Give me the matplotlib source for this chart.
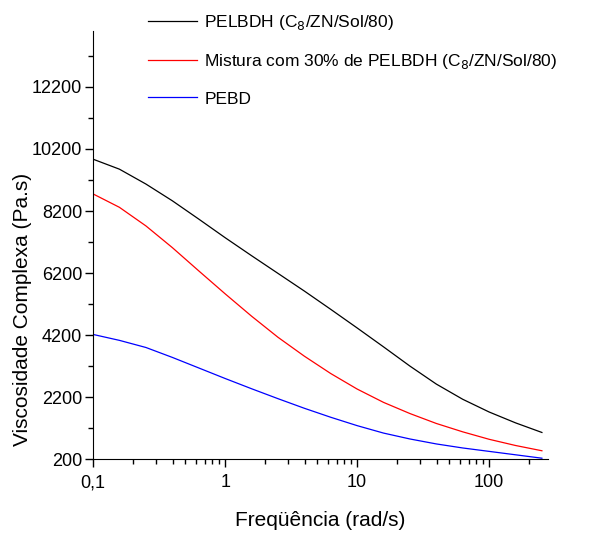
import numpy as np
import matplotlib.pyplot as plt
from matplotlib.ticker import FixedLocator, LogLocator, NullFormatter

plt.rcParams['font.family'] = ['Liberation Sans', 'DejaVu Sans']

# frequencias (rad/s), 5 pontos por decada
freq = [0.1, 0.158, 0.251, 0.398, 0.631, 1.0, 1.585, 2.512, 3.981, 6.31,
        10.0, 15.85, 25.12, 39.81, 63.1, 100.0, 158.5, 251.2]

pelbdh = [9870, 9550, 9070, 8530, 7940, 7340, 6760, 6190, 5620, 5030,
          4430, 3820, 3200, 2620, 2130, 1720, 1370, 1060]
mistura = [8750, 8320, 7720, 7020, 6270, 5530, 4810, 4130, 3520, 2960,
           2460, 2030, 1670, 1350, 1080, 840, 640, 470]
pebd = [4220, 4030, 3800, 3480, 3140, 2800, 2470, 2150, 1840, 1550,
        1280, 1040, 850, 690, 560, 450, 340, 230]

labels = ['PELBDH (C$_8$/ZN/Sol/80)',
          'Mistura com 30% de PELBDH (C$_8$/ZN/Sol/80)',
          'PEBD']

yticks = [200, 2200, 4200, 6200, 8200, 10200, 12200]
xticks = [0.1, 1, 10, 100]
xticklabels = ['0,1', '1', '10', '100']

fig = plt.figure(figsize=(6.05, 5.37), dpi=100)
ax = fig.add_axes([0.154, 0.145, 0.752, 0.797])

ax.plot(freq, pelbdh, color='black', lw=0.9, label=labels[0])
ax.plot(freq, mistura, color='red', lw=0.9, label=labels[1])
ax.plot(freq, pebd, color='blue', lw=0.9, label=labels[2])

ax.set_xscale('log')
ax.set_xlim(0.1, 280)
ax.set_ylim(200, 14000)

ax.set_xticks(xticks)
ax.set_xticklabels(xticklabels)
ax.xaxis.set_minor_locator(LogLocator(base=10, subs=np.arange(2, 10)))
ax.xaxis.set_minor_formatter(NullFormatter())

ax.set_yticks(yticks)
ax.yaxis.set_minor_locator(FixedLocator(np.arange(1200, 14000, 2000)))

ax.spines['top'].set_visible(False)
ax.spines['right'].set_visible(False)
ax.tick_params(which='major', length=6, width=1, labelsize=13, direction='out', pad=2)
ax.tick_params(which='minor', length=3.5, width=1, direction='out')
ax.tick_params(axis='x', pad=5)

ax.set_xlabel('Freqüência (rad/s)', fontsize=15, labelpad=14)
ax.set_ylabel('Viscosidade Complexa (Pa.s)', fontsize=15)
ax.yaxis.set_label_coords(-0.135, 0.35)

fig.legend(loc='upper left', bbox_to_anchor=(148 / 605, 0.975), frameon=False,
           fontsize=12.5, handlelength=2.8, handletextpad=0.45, labelspacing=1.15,
           borderpad=0, borderaxespad=0)

fig.savefig('out.png', dpi=100)
